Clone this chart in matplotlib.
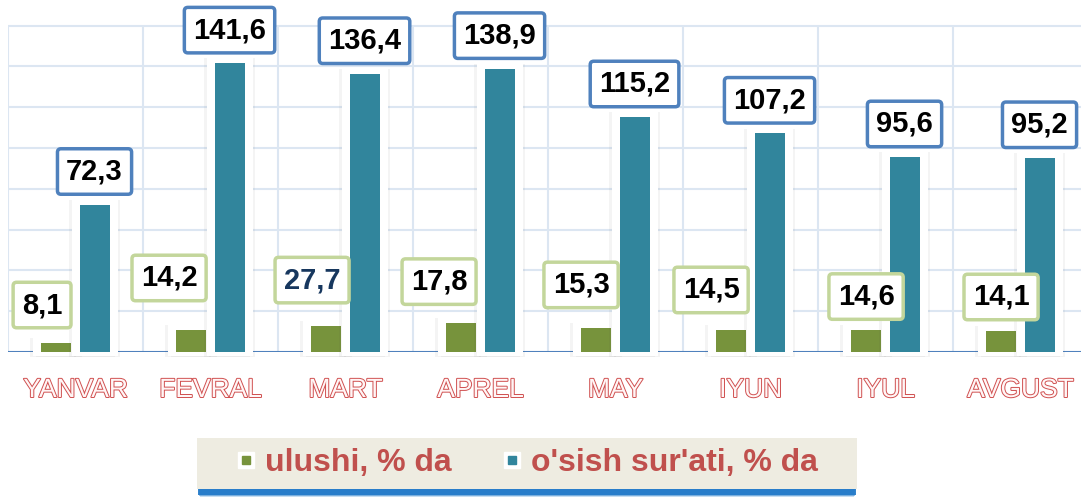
import matplotlib
matplotlib.use("Agg")
import matplotlib.pyplot as plt
import matplotlib.patheffects as pe
from matplotlib.patches import Rectangle
from matplotlib.lines import Line2D
from matplotlib.legend_handler import HandlerTuple

plt.rcParams['font.family'] = ['Liberation Sans', 'DejaVu Sans']

# Ma'lumotlar
oylar = ["YANVAR", "FEVRAL", "MART", "APREL", "MAY", "IYUN", "IYUL", "AVGUST"]
ulushi = [8.1, 14.2, 27.7, 17.8, 15.3, 14.5, 14.6, 14.1]          # yozuvlar
ulushi_bar = [4.4, 10.8, 12.7, 14.4, 11.8, 10.8, 11.0, 10.3]      # ustun balandligi (rasmdan)
osish = [72.3, 141.6, 136.4, 138.9, 115.2, 107.2, 95.6, 95.2]

# ranglar
green = "#77933C"
teal = "#31859C"
red = "#C0504D"

# yashil yozuvlarning siljishi (piksel)
g_dx = [-14, -22, -14, -22, -15, -20, 0, 0]
g_dy = [38, 52, 46, 41, 43, 40, 33, 34]

fig = plt.figure(figsize=(10.81, 5.0), dpi=100)
ax = fig.add_axes([8 / 1081, 148 / 500, 1073 / 1081, 352 / 500])
ax.set_xlim(-0.5, -0.5 + 1073 / 135)
ax.set_ylim(0, 352 / 2.04)
ax.axis("off")

# setka
grid_c = "#DCE6F2"
for y in range(20, 161, 20):
    ax.hlines(y, -0.5, 8, color=grid_c, lw=1.5, zorder=1)
for k in range(9):
    ax.vlines(k - 0.5, 0, 160, color=grid_c, lw=1.5, zorder=1)
ax.hlines(0, -0.5, 8, color="#4F81BD", lw=1.5, zorder=1.5)

w = 30 / 135
halo_w = 46 / 135
shadow = [pe.SimplePatchShadow(offset=(2, -1), alpha=0.06),
          pe.SimplePatchShadow(offset=(-2, -1), alpha=0.06), pe.Normal()]

xs = range(len(oylar))
xg = [x - 0.144 for x in xs]
xt = [x + 0.141 for x in xs]

h1 = ax.bar(xg, [h + 5 for h in ulushi_bar], halo_w, bottom=-2, color="white",
            zorder=2, clip_on=False)
for p in h1:
    p.set_path_effects(shadow)
ax.bar(xg, ulushi_bar, w, color=green, zorder=3)
h2 = ax.bar(xt, [h + 5 for h in osish], halo_w, bottom=-2, color="white",
            zorder=4, clip_on=False)
for p in h2:
    p.set_path_effects(shadow)
ax.bar(xt, osish, w, color=teal, zorder=5)

# yozuvlar
for i in xs:
    ax.annotate(f"{osish[i]:.1f}".replace(".", ","), xy=(xt[i], osish[i]),
                xytext=(0, 33), textcoords="offset pixels", ha="center", va="center",
                fontsize=21, fontweight="bold", color="black", zorder=7,
                bbox=dict(boxstyle="round,pad=0.3,rounding_size=0.12", fc="white",
                          ec="#4F81BD", lw=2.5))
    ax.annotate(f"{ulushi[i]:.1f}".replace(".", ","), xy=(xg[i], ulushi_bar[i]),
                xytext=(g_dx[i], g_dy[i]), textcoords="offset pixels", ha="center",
                va="center", fontsize=21, fontweight="bold",
                color="#17375E" if i == 2 else "black", zorder=7,
                bbox=dict(boxstyle="round,pad=0.3,rounding_size=0.12", fc="white",
                          ec="#C3D69B", lw=2.5))
    ax.annotate(oylar[i], xy=(i, 0), xytext=(0, -38), textcoords="offset pixels",
                ha="center", va="center", fontsize=19, color="#FFF6F6",
                path_effects=[pe.Stroke(linewidth=1.4, foreground="#D05050"), pe.Normal()])

# legenda foni (soya bilan)
for k, a in enumerate([0.25, 0.45, 0.9]):
    d = 3 - k
    fig.patches.append(Rectangle(((197 + d) / 1081, (6 - d) / 500), (660 - 2 * d) / 1081,
                                 (51 + d) / 500, transform=fig.transFigure,
                                 fc="#1F78C8", alpha=a, ec="none", zorder=0))
fig.patches.append(Rectangle((197 / 1081, 11 / 500), 660 / 1081, 51 / 500,
                             transform=fig.transFigure, fc="#EEECE1", ec="none", zorder=1))

def handle(c):
    return (Line2D([], [], marker="s", markersize=12, color="white", ls="none"),
            Line2D([], [], marker="s", markersize=6, color=c, ls="none"))

leg = fig.legend([handle(green), handle(teal)], ["ulushi, % da", "o'sish sur'ati, % da"],
                 handler_map={tuple: HandlerTuple(ndivide=1)},
                 loc="center", bbox_to_anchor=(527 / 1081, 37 / 500), ncol=2, frameon=False,
                 prop=dict(size=23, weight="bold"), labelcolor=red,
                 handlelength=0.6, handletextpad=0.3, columnspacing=1.6)

fig.savefig("out.png", dpi=100)
